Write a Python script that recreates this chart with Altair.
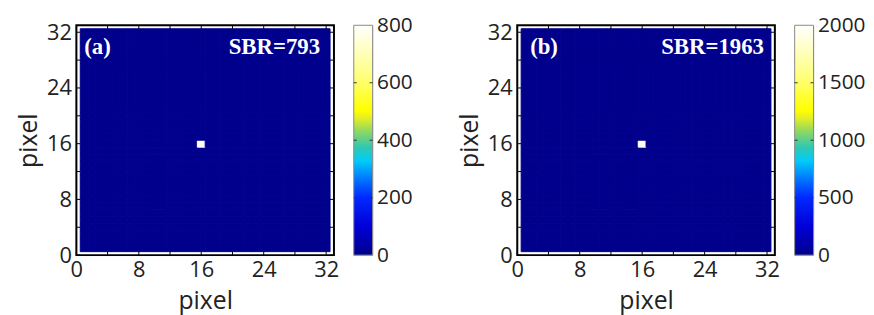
import altair as alt
import pandas as pd

# ---------------- data ----------------
N_PIX = 32
pixels = list(range(1, N_PIX + 1))
background_level = [1.0, 1.0]
peak_value = [793, 1963]
peak_col = [16, 16]
peak_row = [16, 16]
cbar_max = [800, 2000]
cbar_ticks = [[0, 200, 400, 600, 800], [0, 500, 1000, 1500, 2000]]
panel_tags = ["(a)", "(b)"]
sbr_labels = ["SBR=793", "SBR=1963"]
axis_tick_values = [0, 4, 8, 12, 16, 20, 24, 28, 32]
axis_label_values = [0, 8, 16, 24, 32]

# colormap (fraction of colour range -> colour)
cmap_pos = [0.0, 0.125, 0.25, 0.34, 0.41, 0.47, 0.54, 0.60, 0.63, 0.78, 1.0]
cmap_hex = ["#00008C", "#0000D8", "#0028FF", "#0080FF", "#00CCF8", "#30C8B0",
            "#90D860", "#E8F020", "#FFFF00", "#FFFF80", "#FFFFFF"]

# ---------------- layout/style ----------------
W, H = 260, 232
CB_W = 19
tag_dx = [8, 13]
sbr_dx = [14, 11]
LABEL_FONT = "Open Sans"
ANNOT_FONT = "Liberation Serif"


def panel(i):
    recs = []
    for r in pixels:
        for c in pixels:
            v = peak_value[i] if (r == peak_row[i] and c == peak_col[i]) else background_level[i]
            recs.append({"col": c, "row": r, "value": v})
    df = pd.DataFrame(recs)
    vmax = cbar_max[i]
    cscale = alt.Scale(domain=[p * vmax for p in cmap_pos], range=cmap_hex,
                       interpolate="rgb", clamp=True)
    xs = alt.Scale(domain=[0, 33], nice=False, zero=False)
    ys = alt.Scale(domain=[0, 33], nice=False, zero=False)
    ax = dict(values=axis_label_values, grid=False, domain=False, ticks=False,
              labelFont=LABEL_FONT, labelFontSize=22, labelColor="#222",
              titleFont=LABEL_FONT, titleFontSize=25, titleFontWeight="normal",
              titleColor="#222", title="pixel", labelFlush=False)
    x_axis = alt.Axis(labelPadding=5, titlePadding=8, **ax)
    y_axis = alt.Axis(labelPadding=5, titlePadding=5, **ax)
    heat = (
        alt.Chart(df)
        .transform_calculate(x0="datum.col - 0.5", x1="datum.col + 0.5",
                             y0="datum.row - 0.5", y1="datum.row + 0.5")
        .mark_rect(strokeWidth=1)
        .encode(
            x=alt.X("x0:Q", scale=xs, axis=x_axis),
            x2="x1:Q",
            y=alt.Y("y0:Q", scale=ys, axis=y_axis),
            y2="y1:Q",
            fill=alt.Fill("value:Q", scale=cscale, legend=None),
            stroke=alt.Stroke("value:Q", scale=cscale, legend=None),
        )
    )
    tdf = pd.DataFrame({"t": axis_tick_values})
    tick_b = alt.Chart(tdf).mark_rule(color="black", strokeWidth=1).encode(
        x=alt.X("t:Q", scale=xs, axis=x_axis), y=alt.value(H), y2=alt.value(H - 4))
    tick_t = alt.Chart(tdf).mark_rule(color="black", strokeWidth=1).encode(
        x=alt.X("t:Q", scale=xs, axis=x_axis), y=alt.value(0), y2=alt.value(4))
    tick_l = alt.Chart(tdf).mark_rule(color="black", strokeWidth=1).encode(
        y=alt.Y("t:Q", scale=ys, axis=y_axis), x=alt.value(0), x2=alt.value(4))
    tick_r = alt.Chart(tdf).mark_rule(color="black", strokeWidth=1).encode(
        y=alt.Y("t:Q", scale=ys, axis=y_axis), x=alt.value(W), x2=alt.value(W - 4))
    frame = alt.Chart(alt.Data(values=[{}])).mark_rect(
        filled=False, stroke="black", strokeWidth=2).encode(
        x=alt.value(0), x2=alt.value(W), y=alt.value(0), y2=alt.value(H))
    tag = alt.Chart(alt.Data(values=[{"t": panel_tags[i]}])).mark_text(
        font=ANNOT_FONT, fontWeight="bold", fontSize=23, color="white",
        align="left", baseline="middle").encode(
        text="t:N", x=alt.value(tag_dx[i]), y=alt.value(22))
    sbr = alt.Chart(alt.Data(values=[{"t": sbr_labels[i]}])).mark_text(
        font=ANNOT_FONT, fontWeight="bold", fontSize=23, color="white",
        align="right", baseline="middle").encode(
        text="t:N", x=alt.value(W - sbr_dx[i]), y=alt.value(22))
    return alt.layer(heat, tick_b, tick_t, tick_l, tick_r, frame, tag, sbr).properties(
        width=W, height=H)


def colorbar(i):
    vmax = cbar_max[i]
    ys = alt.Scale(domain=[0, vmax], nice=False, zero=False)
    cb_axis = alt.Axis(
        orient="right", values=cbar_ticks[i], grid=False, domain=False, ticks=False,
        labelFont=LABEL_FONT, labelFontSize=21, labelColor="#222", labelPadding=4,
        labelFlush=False, format="d", title=None)
    grad = alt.LinearGradient(
        gradient="linear",
        stops=[alt.GradientStop(offset=p, color=c) for p, c in zip(cmap_pos, cmap_hex)],
        x1=0, x2=0, y1=1, y2=0)
    bar = alt.Chart(alt.Data(values=[{"lo": 0, "hi": vmax}])).mark_rect(
        fill=grad, stroke="#8a8a8a", strokeWidth=1).encode(
        y=alt.Y("lo:Q", scale=ys, axis=cb_axis),
        y2="hi:Q", x=alt.value(0), x2=alt.value(CB_W))
    tdf = pd.DataFrame({"t": cbar_ticks[i][1:-1]})
    tl = alt.Chart(tdf).mark_rule(color="#333", strokeWidth=1).encode(
        y=alt.Y("t:Q", scale=ys, axis=cb_axis), x=alt.value(0), x2=alt.value(3))
    tr = alt.Chart(tdf).mark_rule(color="#333", strokeWidth=1).encode(
        y=alt.Y("t:Q", scale=ys, axis=cb_axis), x=alt.value(CB_W), x2=alt.value(CB_W - 3))
    return alt.layer(bar, tl, tr).properties(width=CB_W, height=H)


left = alt.hconcat(panel(0), colorbar(0), spacing=13)
right = alt.hconcat(panel(1), colorbar(1), spacing=13)
chart = (
    alt.hconcat(left, right, spacing=44)
    .resolve_scale(fill="independent", stroke="independent", x="independent", y="independent")
    .properties(padding={"left": 8, "top": 4, "right": 0, "bottom": 0})
    .configure_view(stroke=None)
    .configure(background="white")
)

chart.save("out.html", embed_options={"renderer": "svg", "actions": False})
